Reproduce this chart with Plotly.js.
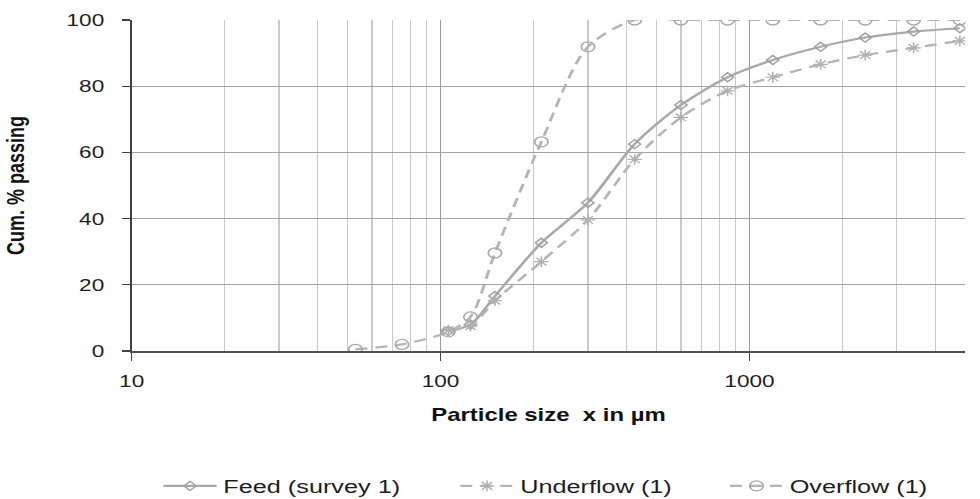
<!DOCTYPE html>
<html>
<head>
<meta charset="utf-8">
<script src="https://cdn.plot.ly/plotly-3.0.1.min.js"></script>
<style>
  html, body { margin: 0; padding: 0; background: #ffffff; overflow: hidden; }
  #wrap { width: 980px; height: 499px; overflow: hidden; }
  #plot { width: 737px; height: 499px; transform: scaleX(1.3297); transform-origin: 0 0; }
</style>
</head>
<body>
<div id="wrap"><div id="plot"></div></div>
<script>
// Sieve sizes (µm)
const sieveSizes = [53, 75, 106, 125, 150, 212, 300, 425, 600, 850, 1190, 1700, 2370, 3400, 4800];
// Cumulative % passing
const feedSurvey1 = [null, null, 6.0, 8.0, 16.6, 32.7, 44.8, 62.5, 74.3, 82.7, 87.9, 91.9, 94.7, 96.5, 97.5];
const underflow1  = [null, null, 6.3, 7.5, 15.2, 27.0, 39.6, 57.9, 70.6, 78.6, 82.7, 86.6, 89.4, 91.6, 93.7];
const overflow1   = [0.5, 2.0, 5.8, 10.3, 29.6, 63.2, 91.9, 100, 100, 100, 100, 100, 100, 100, 100];
// Axis ticks
const xTickVals = [10, 100, 1000];
const xTickText = ['10', '100', '1000'];
const yTickVals = [0, 20, 40, 60, 80, 100];

const FONT = '"Liberation Sans", Arial, sans-serif';

const traces = [
  {
    x: sieveSizes, y: feedSurvey1, name: 'Feed (survey 1)', type: 'scatter', mode: 'lines+markers',
    line: { color: '#a9a9a9', width: 2.2, shape: 'spline', smoothing: 0.8 },
    marker: { symbol: 'diamond-open', size: 7, color: '#a0a0a0', line: { color: '#a0a0a0', width: 1.3 } },
    legend: 'legend'
  },
  {
    x: sieveSizes, y: underflow1, name: 'Underflow (1)', type: 'scatter', mode: 'lines+markers',
    line: { color: '#b4b4b4', width: 2.2, dash: '9px,6px', shape: 'spline', smoothing: 0.8 },
    marker: { symbol: 'asterisk-open', size: 9, color: '#b0b0b0', line: { color: '#b0b0b0', width: 1.2 } },
    legend: 'legend2'
  },
  {
    x: sieveSizes, y: overflow1, name: 'Overflow (1)', type: 'scatter', mode: 'lines+markers',
    line: { color: '#b4b4b4', width: 2.2, dash: '9px,6px', shape: 'spline', smoothing: 0.8 },
    marker: { symbol: 'circle-open', size: 10, color: '#a8a8a8', line: { color: '#a8a8a8', width: 1.3 } },
    legend: 'legend3'
  }
];

const legendBase = {
  orientation: 'h', xref: 'container', yref: 'container',
  yanchor: 'middle', y: 0.026, xanchor: 'left',
  itemwidth: 40,
  font: { family: FONT, size: 19, color: '#1e1e1e' },
  bgcolor: 'rgba(0,0,0,0)', borderwidth: 0
};

const layout = {
  width: 737, height: 499,
  margin: { l: 98.5, r: 11, t: 20, b: 148, autoexpand: false },
  paper_bgcolor: '#ffffff', plot_bgcolor: '#ffffff',
  font: { family: FONT, color: '#1e1e1e' },
  showlegend: true,
  legend:  Object.assign({}, legendBase, { x: 0.160 }),
  legend2: Object.assign({}, legendBase, { x: 0.463 }),
  legend3: Object.assign({}, legendBase, { x: 0.738 }),
  xaxis: {
    type: 'log', range: [1, Math.log10(5000)],
    tickmode: 'array', tickvals: xTickVals, ticktext: xTickText,
    ticks: 'outside', ticklen: 8, tickwidth: 1.2, tickcolor: '#404040',
    ticklabelstandoff: 6,
    tickfont: { family: FONT, size: 17, color: '#1e1e1e' },
    showgrid: true, gridcolor: '#9a9a9a', gridwidth: 1,
    minor: { dtick: 'D1', showgrid: true, gridcolor: '#c9c9c9', gridwidth: 1, ticks: '' },
    showline: true, linecolor: '#505050', linewidth: 1.5,
    zeroline: false, fixedrange: true,
    title: { text: 'Particle size\u00a0 x in µm', font: { family: FONT, size: 18, color: '#111', weight: 'bold' }, standoff: 18 }
  },
  yaxis: {
    range: [0, 100], tickmode: 'array', tickvals: yTickVals,
    ticks: 'outside', ticklen: 6, tickwidth: 1.2, tickcolor: '#404040',
    tickfont: { family: FONT, size: 17, color: '#1e1e1e' },
    ticklabelstandoff: 10,
    showgrid: true, gridcolor: '#a3a3a3', gridwidth: 1.3,
    showline: true, linecolor: '#404040', linewidth: 1.2,
    zeroline: false, fixedrange: true,
    title: { text: 'Cum. % passing', font: { family: FONT, size: 18, color: '#111', weight: 'bold' }, standoff: 26 }
  }
};

Plotly.newPlot('plot', traces, layout, { displayModeBar: false, staticPlot: true, responsive: false });
</script>
</body>
</html>
